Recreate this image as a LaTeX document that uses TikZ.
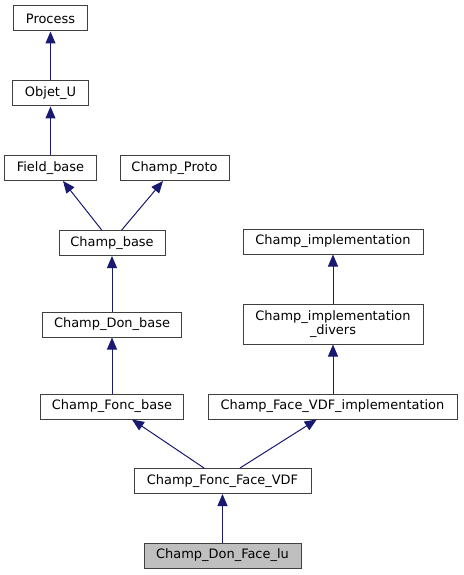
\documentclass[tikz,border=0pt]{standalone}
\usepackage{fontspec}
\setmainfont{DejaVu Sans}
\usetikzlibrary{arrows.meta,calc}
\definecolor{edgeblue}{HTML}{191970}
\definecolor{leafgray}{HTML}{BFBFBF}
\begin{document}
\begin{tikzpicture}[x=1bp,y=-1bp,
  cls/.style={draw=black!75,line width=1bp,fill=white,minimum height=25bp,inner sep=0pt,font=\fontsize{13}{14.5}\selectfont,align=center},
  inh/.style={draw=edgeblue,line width=1bp,{Triangle[length=12bp,width=10bp,fill=edgeblue]}-}]
\useasboundingbox (0,0) rectangle (464,575);
\node[cls,minimum width=73bp] (process) at (50.5,18.5) {Process};
\node[cls,minimum width=75bp] (objet) at (50.5,93.5) {Objet\_U};
\node[cls,minimum width=91bp] (field) at (50.5,168) {Field\_base};
\node[cls,minimum width=109bp] (proto) at (174.5,168) {Champ\_Proto};
\node[cls,minimum width=106bp] (cbase) at (112,243) {Champ\_base};
\node[cls,minimum width=180bp] (cimpl) at (333,241.5) {Champ\_implementation};
\node[cls,minimum width=180bp,minimum height=40bp] (cdiv) at (333,324) {Champ\_implementation\\\_divers};
\node[cls,minimum width=139bp] (cdon) at (112,324.5) {Champ\_Don\_base};
\node[cls,minimum width=143bp] (cfonc) at (112,406.5) {Champ\_Fonc\_base};
\node[cls,minimum width=249bp] (cfvi) at (332.5,406.5) {Champ\_Face\_VDF\_implementation};
\node[cls,minimum width=177bp] (cffv) at (222.5,481) {Champ\_Fonc\_Face\_VDF};
\node[cls,minimum width=157bp,fill=leafgray] (cdfl) at (222.5,555.5) {Champ\_Don\_Face\_lu};
\draw[inh] (process.south) -- (objet.north);
\draw[inh] (objet.south) -- (field.north);
\draw[inh] ($(field.south)+(12.5,0)$) -- ($(cbase.north)+(-10.3,0)$);
\draw[inh] ($(proto.south)+(-11.5,0)$) -- ($(cbase.north)+(9.7,0)$);
\draw[inh] (cbase.south) -- (cdon.north);
\draw[inh] (cdon.south) -- (cfonc.north);
\draw[inh] (cimpl.south) -- (cdiv.north);
\draw[inh] (cdiv.south) -- (cdiv.south |- cfvi.north);
\draw[inh] ($(cfonc.south)+(20,0)$) -- ($(cffv.north)+(-18.5,0)$);
\draw[inh] ($(cfvi.south)+(-15.8,0)$) -- ($(cffv.north)+(17.5,0)$);
\draw[inh] (cffv.south) -- (cdfl.north);
\end{tikzpicture}
\end{document}
